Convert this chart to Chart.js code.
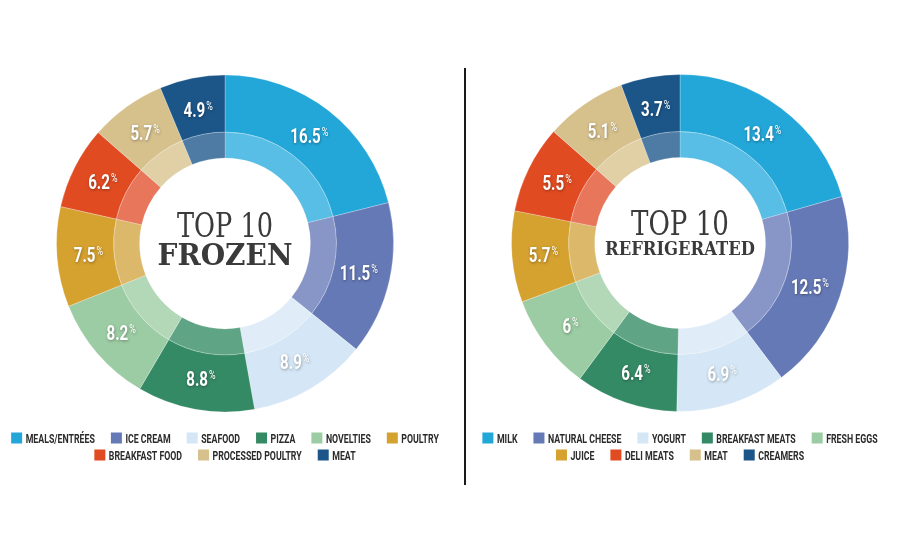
<!DOCTYPE html>
<html><head><meta charset="utf-8">
<script src="https://cdn.jsdelivr.net/npm/chart.js@4.4.1/dist/chart.umd.min.js"></script>
<style>
html,body{margin:0;padding:0;background:#fff;width:900px;height:550px;overflow:hidden}
#c1wrap{position:absolute;left:0;top:0;width:450px;height:550px}
#c2wrap{position:absolute;left:458px;top:0;width:444px;height:550px}
#divider{position:absolute;left:464px;top:68px;width:2px;height:417px;background:#1a1a1a}
</style></head><body>
<div id="divider"></div>
<div id="c1wrap"><canvas id="c1" width="450" height="550"></canvas></div>
<div id="c2wrap"><canvas id="c2" width="444" height="550"></canvas></div>
<script>
// ---- data ----
const frozenCategories = ['MEALS/ENTRÉES','ICE CREAM','SEAFOOD','PIZZA','NOVELTIES','POULTRY','BREAKFAST FOOD','PROCESSED POULTRY','MEAT'];
const frozenValues = [16.5, 11.5, 8.9, 8.8, 8.2, 7.5, 6.2, 5.7, 4.9];
const refrigCategories = ['MILK','NATURAL CHEESE','YOGURT','BREAKFAST MEATS','FRESH EGGS','JUICE','DELI MEATS','MEAT','CREAMERS'];
const refrigValues = [13.4, 12.5, 6.9, 6.4, 6, 5.7, 5.5, 5.1, 3.7];
const frozenTitle = ['TOP 10', 'FROZEN'];
const refrigTitle = ['TOP 10', 'REFRIGERATED'];

// ---- styles ----
const palette = ['#23a7d9','#6579b6','#d5e7f6','#358a66','#9ccca3','#d5a12f','#e14b22','#d6c08c','#1c5689'];
const paletteLight = ['#58bee5','#8896c7','#e0ecf8','#60a486','#b3d8b8','#dcb86b','#e8765b','#e1d0a6','#4e7ba4'];
const sansFam = "Roboto, 'Liberation Sans', sans-serif";

const labelPlugin = {
  id: 'sliceLabels',
  afterDatasetsDraw(chart) {
    const ctx = chart.ctx;
    const meta = chart.getDatasetMeta(0);
    const vals = chart.data.datasets[0].data;
    meta.data.forEach((arc, i) => {
      const p = arc.getProps(['x','y','startAngle','endAngle'], true);
      const mid = (p.startAngle + p.endAngle) / 2;
      const r = 137;
      const px = p.x + Math.cos(mid) * r;
      const py = p.y + Math.sin(mid) * r;
      const num = String(vals[i]);
      const sx = 0.72;
      const nSize = 21, pSize = 12.5;
      const nFont = '700 ' + nSize + 'px ' + sansFam;
      const pFont = '400 ' + pSize + 'px ' + sansFam;
      ctx.save();
      ctx.font = nFont;
      const nw = ctx.measureText(num).width * sx;
      ctx.font = pFont;
      const pw = ctx.measureText('%').width * sx;
      const total = nw + pw + 1;
      const cap = nSize * 0.711;
      ctx.translate(px - total / 2, py + cap / 2);
      ctx.scale(sx, 1);
      ctx.shadowColor = 'rgba(0,0,0,0.35)';
      ctx.shadowBlur = 3;
      ctx.shadowOffsetX = 0.5;
      ctx.shadowOffsetY = 1;
      ctx.fillStyle = '#ffffff';
      ctx.textBaseline = 'alphabetic';
      ctx.textAlign = 'left';
      ctx.font = nFont;
      ctx.fillText(num, 0, 0);
      ctx.font = pFont;
      ctx.fillText('%', (nw + 1) / sx, -cap + pSize * 0.711 - 1);
      ctx.restore();
    });
  }
};

function fitText(ctx, text, font, x, baseline, targetWidth, color) {
  ctx.font = font;
  const w = ctx.measureText(text).width;
  ctx.save();
  ctx.translate(x, baseline);
  ctx.scale(targetWidth / w, 1);
  ctx.textAlign = 'center';
  ctx.textBaseline = 'alphabetic';
  ctx.fillStyle = color;
  ctx.fillText(text, 0, 0);
  ctx.restore();
}

function centerPlugin(lines, spec) {
  return {
    id: 'centerText',
    afterDraw(chart) {
      const arc = chart.getDatasetMeta(0).data[0];
      const cx = arc.x, cy = arc.y;
      const ctx = chart.ctx;
      fitText(ctx, lines[0], spec.f1, cx, cy + spec.b1, spec.w1, '#3a3a3a');
      fitText(ctx, lines[1], spec.f2, cx, cy + spec.b2, spec.w2, '#3a3a3a');
    }
  };
}

function legendPlugin(maxWidth, rowYs) {
  return {
    id: 'customLegend',
    afterDraw(chart) {
      const ctx = chart.ctx;
      const labels = chart.data.labels;
      const colors = chart.data.datasets[0].backgroundColor;
      const fs = 13.5, sx = 0.65;
      const font = 'bold ' + fs + 'px ' + sansFam;
      const box = 11, tgap = 3.5, igap = 16;
      ctx.save();
      ctx.font = font;
      const items = labels.map((l, i) => ({ l, c: colors[i], w: box + tgap + ctx.measureText(l).width * sx }));
      const rows = [[]];
      let rw = 0;
      items.forEach(it => {
        const cur = rows[rows.length - 1];
        const add = (cur.length ? igap : 0) + it.w;
        if (cur.length && rw + add > maxWidth) { rows.push([it]); rw = it.w; }
        else { cur.push(it); rw += add; }
      });
      const cx = chart.getDatasetMeta(0).data[0].x;
      rows.forEach((row, ri) => {
        const tw = row.reduce((s, it) => s + it.w, 0) + igap * (row.length - 1);
        let x = cx - tw / 2;
        const y = rowYs[ri];
        row.forEach(it => {
          ctx.fillStyle = it.c;
          ctx.fillRect(x, y - box / 2, box, box);
          ctx.save();
          ctx.translate(x + box + tgap, y + fs * 0.711 / 2);
          ctx.scale(sx, 1);
          ctx.fillStyle = '#2b2b2b';
          ctx.font = font;
          ctx.textBaseline = 'alphabetic';
          ctx.textAlign = 'left';
          ctx.fillText(it.l, 0, 0);
          ctx.restore();
          x += it.w + igap;
        });
      });
      ctx.restore();
    }
  };
}

function makeChart(id, categories, values, lines, spec, padding, legendWidth, rowYs) {
  return new Chart(document.getElementById(id), {
    type: 'doughnut',
    data: {
      labels: categories,
      datasets: [
        { data: values, backgroundColor: palette, borderWidth: 1, borderColor: 'rgba(255,255,255,0.25)', weight: 57 },
        { data: values, backgroundColor: paletteLight, borderWidth: 1, borderColor: 'rgba(255,255,255,0.2)', weight: 26 }
      ]
    },
    options: {
      responsive: false,
      animation: false,
      events: [],
      radius: 168.5,
      cutout: '50.7%',
      layout: { padding: padding },
      plugins: {
        tooltip: { enabled: false },
        legend: { display: false }
      }
    },
    plugins: [labelPlugin, centerPlugin(lines, spec), legendPlugin(legendWidth, rowYs)]
  });
}

makeChart('c1', frozenCategories, frozenValues, frozenTitle,
  { f1: "34px 'DejaVu Serif'", b1: -6.5, w1: 96, f2: "bold 30px 'DejaVu Serif'", b2: 21.5, w2: 135 },
  { top: 60, bottom: 123, left: 8, right: 8 }, 445, [438, 455]);
makeChart('c2', refrigCategories, refrigValues, refrigTitle,
  { f1: "34px 'DejaVu Serif'", b1: -8, w1: 98, f2: "bold 18.5px 'DejaVu Serif'", b2: 12, w2: 150 },
  { top: 60, bottom: 124, left: 8, right: 8 }, 418, [438, 455]);
</script>
</body></html>
